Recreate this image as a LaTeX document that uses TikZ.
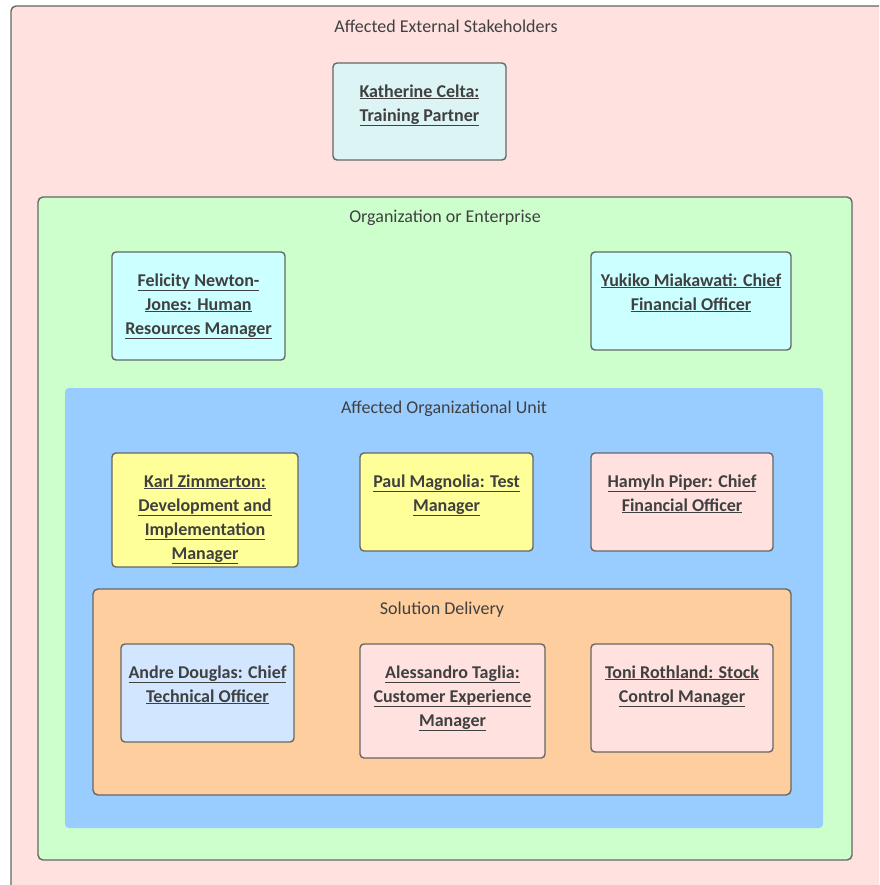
\documentclass[tikz,border=0pt]{standalone}
\usepackage{fontspec}
\setmainfont{Carlito}
\definecolor{edge}{HTML}{666666}
\definecolor{txt}{HTML}{404040}
\definecolor{extc}{HTML}{FFE2DF}
\definecolor{orgc}{HTML}{CCFFCC}
\definecolor{unitc}{HTML}{99CCFF}
\definecolor{solc}{HTML}{FFCE9E}
\definecolor{tealc}{HTML}{DCF4F4}
\definecolor{cyanc}{HTML}{CCFFFF}
\definecolor{yelc}{HTML}{FFFF99}
\definecolor{pinkc}{HTML}{FFE2DF}
\definecolor{bluec}{HTML}{D2E7FF}
\tikzset{
  box/.style={draw=edge, line width=1.4pt, rounded corners=4pt, inner sep=0pt},
  frame/.style={draw=edge, line width=1.4pt, rounded corners=5pt},
  lbl/.style={font=\fontsize{18}{24}\selectfont\bfseries, text=txt, align=center, inner sep=0pt, anchor=north},
  ttl/.style={font=\fontsize{18}{20}\selectfont, text=txt, inner sep=0pt}
}
\newcommand{\ul}[1]{\underline{#1}}
\begin{document}
\begin{tikzpicture}[x=1pt,y=-1pt]
\useasboundingbox (0,0) rectangle (879,885);
\clip (0,0) rectangle (879,885);
\fill[white] (0,0) rectangle (879,885);
% containers
\draw[frame, fill=extc] (11,6) rectangle (900,910);
\node[ttl] (extt) at (446,26) {Affected External Stakeholders};
\draw[frame, fill=orgc] (38,197) rectangle (852,860);
\node[ttl] (orgt) at (445,217.5) {Organization or Enterprise};
\fill[unitc, rounded corners=4pt] (65,388) rectangle (823,828);
\node[ttl] (unitt) at (444,408.5) {Affected Organizational Unit};
\draw[frame, fill=solc] (93,589) rectangle (791,795);
\node[ttl] (solt) at (442,609.5) {Solution Delivery};
% boxes
\node[box, fill=tealc, minimum width=173pt, minimum height=97pt] (kc) at (419.5,111.5) {};
\node[lbl] (kct) at ([yshift=-22pt]kc.north) {\ul{Katherine Celta:}\\\ul{Training Partner}};
\node[box, fill=cyanc, minimum width=173pt, minimum height=108pt] (fn) at (198.5,306) {};
\node[lbl] (fnt) at ([yshift=-22pt]fn.north) {\ul{Felicity Newton-}\\\ul{Jones: Human}\\\ul{Resources Manager}};
\node[box, fill=cyanc, minimum width=200pt, minimum height=98pt] (ym) at (691,301) {};
\node[lbl] (ymt) at ([yshift=-22pt]ym.north) {\ul{Yukiko Miakawati: Chief}\\\ul{Financial Officer}};
\node[box, fill=yelc, minimum width=186pt, minimum height=114pt] (kz) at (205,510) {};
\node[lbl] (kzt) at ([yshift=-22pt]kz.north) {\ul{Karl Zimmerton:}\\\ul{Development and}\\\ul{Implementation}\\\ul{Manager}};
\node[box, fill=yelc, minimum width=173pt, minimum height=98pt] (pm) at (446.5,502) {};
\node[lbl] (pmt) at ([yshift=-22pt]pm.north) {\ul{Paul Magnolia: Test}\\\ul{Manager}};
\node[box, fill=pinkc, minimum width=182pt, minimum height=98pt] (hp) at (682,502) {};
\node[lbl] (hpt) at ([yshift=-22pt]hp.north) {\ul{Hamyln Piper: Chief}\\\ul{Financial Officer}};
\node[box, fill=bluec, minimum width=173pt, minimum height=98pt] (ad) at (207.5,693) {};
\node[lbl] (adt) at ([yshift=-22pt]ad.north) {\ul{Andre Douglas: Chief}\\\ul{Technical Officer}};
\node[box, fill=pinkc, minimum width=185pt, minimum height=114pt] (at) at (452.5,701) {};
\node[lbl] (att) at ([yshift=-22pt]at.north) {\ul{Alessandro Taglia:}\\\ul{Customer Experience}\\\ul{Manager}};
\node[box, fill=pinkc, minimum width=182pt, minimum height=108pt] (tr) at (682,698) {};
\node[lbl] (trt) at ([yshift=-22pt]tr.north) {\ul{Toni Rothland: Stock}\\\ul{Control Manager}};
\end{tikzpicture}
\end{document}
